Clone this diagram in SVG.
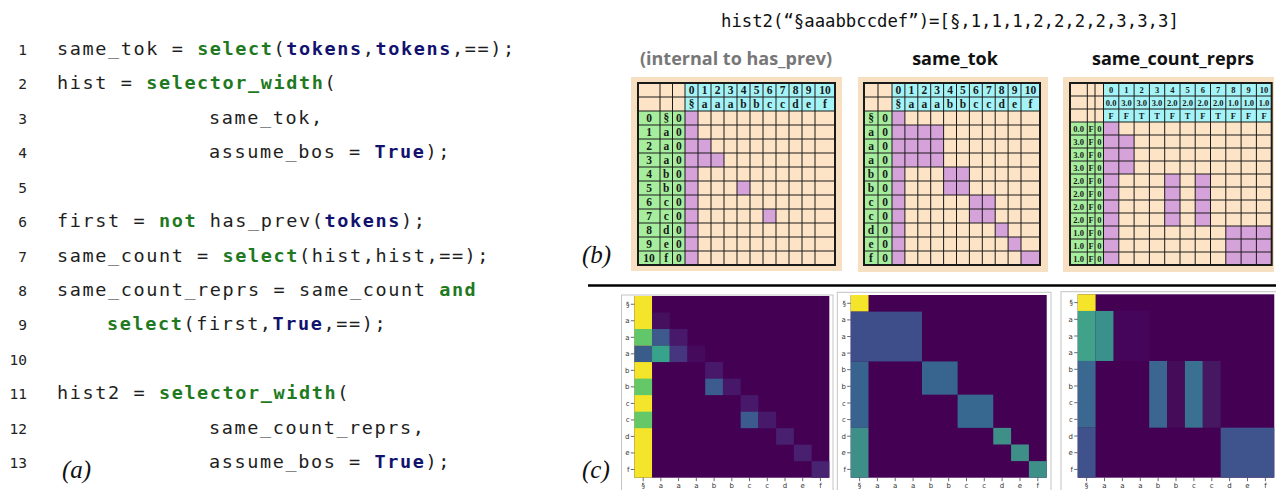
<svg xmlns="http://www.w3.org/2000/svg" width="1276" height="490" viewBox="0 0 1276 490">
<style>
.code{font-family:"DejaVu Sans Mono","Liberation Mono",monospace;font-size:18.5px;letter-spacing:1.6px;fill:#1e1e1e}
.ln{font-family:"DejaVu Sans Mono","Liberation Mono",monospace;font-size:14.5px;fill:#222;text-anchor:end}
.kg{fill:#1f7a1f;font-weight:bold}
.kn{fill:#12126e;font-weight:bold}
.lab{font-family:"Liberation Serif",serif;font-style:italic;font-size:25px;fill:#111}
.ttl{font-family:"Open Sans","Noto Sans",sans-serif;font-weight:bold;font-size:18px;text-anchor:middle}
.pan{fill:#f7dfc2}
.bg{fill:#fde4c6}
.cy{fill:#a4f3f6}
.gr{fill:#a6ee9e}
.pu{fill:#d5a2da}
.gl{stroke:#1a1a1a;stroke-width:1;fill:none}
.go{stroke:#1a1a1a;stroke-width:2;fill:none}
.g1{font-family:"Liberation Serif",serif;font-weight:bold;font-size:11.5px;fill:#1a1a1a;text-anchor:middle}
.g3{font-family:"Liberation Serif",serif;font-weight:bold;font-size:8.5px;fill:#1a1a1a;text-anchor:middle}
.box{fill:#fff;stroke:#c4c4c4;stroke-width:1}
.tk{stroke:#444;stroke-width:0.8;fill:none}
.tl{font-family:"DejaVu Sans",sans-serif;font-size:7px;fill:#333}
.tle{text-anchor:end}
.tlm{text-anchor:middle}
</style>

<g id="code">
<text class="ln" x="27" y="55">1</text>
<text class="ln" x="27" y="89.4">2</text>
<text class="ln" x="27" y="123.8">3</text>
<text class="ln" x="27" y="158.3">4</text>
<text class="ln" x="27" y="192.7">5</text>
<text class="ln" x="27" y="227.1">6</text>
<text class="ln" x="27" y="261.5">7</text>
<text class="ln" x="27" y="295.9">8</text>
<text class="ln" x="27" y="330.4">9</text>
<text class="ln" x="27" y="364.8">10</text>
<text class="ln" x="27" y="399.2">11</text>
<text class="ln" x="27" y="433.6">12</text>
<text class="ln" x="27" y="468">13</text>
<text class="code" x="57" y="55">same_tok = <tspan class="kg">select</tspan>(<tspan class="kn">tokens</tspan>,<tspan class="kn">tokens</tspan>,==);</text>
<text class="code" x="57" y="89.4">hist = <tspan class="kg">selector_width</tspan>(</text>
<text class="code" x="209" y="123.8">same_tok,</text>
<text class="code" x="209" y="158.3">assume_bos = <tspan class="kn">True</tspan>);</text>
<text class="code" x="57" y="227.1">first = <tspan class="kg">not</tspan> has_prev(<tspan class="kn">tokens</tspan>);</text>
<text class="code" x="57" y="261.5">same_count = <tspan class="kg">select</tspan>(hist,hist,==);</text>
<text class="code" x="57" y="295.9">same_count_reprs = same_count <tspan class="kg">and</tspan></text>
<text class="code" x="107" y="330.4"><tspan class="kg">select</tspan>(first,<tspan class="kn">True</tspan>,==);</text>
<text class="code" x="57" y="399.2">hist2 = <tspan class="kg">selector_width</tspan>(</text>
<text class="code" x="209" y="433.6">same_count_reprs,</text>
<text class="code" x="209" y="468">assume_bos = <tspan class="kn">True</tspan>);</text>
<text class="lab" x="62" y="478">(a)</text>
</g>

<g id="title">
<text x="721" y="27" font-family="DejaVu Sans Mono, monospace" font-size="17.3" fill="#111">hist2(“§aaabbccdef”)=[§,1,1,1,2,2,2,2,3,3,3]</text>
<text class="lab" x="582" y="263">(b)</text>
<text class="lab" x="582" y="478">(c)</text>
<line x1="588" y1="285.5" x2="1276" y2="285.5" stroke="#000" stroke-width="2.6"/>
</g>

<g id="grid-has-prev">
<text class="ttl" x="736" y="65" fill="#777">(internal to has_prev)</text>
<rect class="pan" x="631" y="77" width="211" height="194"/>
<rect class="bg" x="638" y="83" width="197" height="182"/>
<rect class="cy" x="685" y="83" width="150" height="28"/>
<rect class="gr" x="638" y="111" width="47" height="154"/>
<rect class="pu" x="685" y="111" width="13" height="154"/>
<rect class="pu" x="698" y="139" width="13" height="14"/>
<rect class="pu" x="698" y="153" width="26" height="14"/>
<rect class="pu" x="737" y="181" width="13" height="14"/>
<rect class="pu" x="763" y="209" width="13" height="14"/>
<path class="gl" d="M660 83V265M672.5 83V265M685 83V265M698 83V265M711 83V265M724 83V265M737 83V265M750 83V265M763 83V265M776 83V265M789 83V265M802 83V265M815 83V265M638 97H835M638 111H835M638 125H835M638 139H835M638 153H835M638 167H835M638 181H835M638 195H835M638 209H835M638 223H835M638 237H835M638 251H835"/>
<rect class="go" x="638" y="83" width="197" height="182"/>
<text class="g1" x="691.5 704.5 717.5 730.5 743.5 756.5 769.5 782.5 795.5 808.5" y="94">0123456789</text>
<text class="g1" x="825" y="94">10</text>
<text class="g1" x="691.5 704.5 717.5 730.5 743.5 756.5 769.5 782.5 795.5 808.5 825" y="108">§aaabbccdef</text>
<text class="g1" x="649 649 649 649 649 649 649 649 649 649" y="122 136 150 164 178 192 206 220 234 248">0123456789</text>
<text class="g1" x="649" y="262">10</text>
<text class="g1" x="666.25 666.25 666.25 666.25 666.25 666.25 666.25 666.25 666.25 666.25 666.25" y="122 136 150 164 178 192 206 220 234 248 262">§aaabbccdef</text>
<text class="g1" x="678.75 678.75 678.75 678.75 678.75 678.75 678.75 678.75 678.75 678.75 678.75" y="122 136 150 164 178 192 206 220 234 248 262">00000000000</text>
</g>

<g id="grid-same-tok">
<text class="ttl" x="955" y="65" fill="#111">same_tok</text>
<rect class="pan" x="858" y="77" width="190" height="195"/>
<rect class="bg" x="864" y="83" width="176" height="182"/>
<rect class="cy" x="892" y="83" width="148" height="28"/>
<rect class="gr" x="864" y="111" width="28" height="154"/>
<rect class="pu" x="892" y="111" width="12.9" height="154"/>
<rect class="pu" x="904.9" y="125" width="38.7" height="42"/>
<rect class="pu" x="943.6" y="167" width="25.8" height="28"/>
<rect class="pu" x="969.4" y="195" width="25.8" height="28"/>
<rect class="pu" x="995.2" y="223" width="12.9" height="14"/>
<rect class="pu" x="1008.1" y="237" width="12.9" height="14"/>
<rect class="pu" x="1021" y="251" width="19" height="14"/>
<path class="gl" d="M878 83V265M892 83V265M904.9 83V265M917.8 83V265M930.7 83V265M943.6 83V265M956.5 83V265M969.4 83V265M982.3 83V265M995.2 83V265M1008.1 83V265M1021 83V265M864 97H1040M864 111H1040M864 125H1040M864 139H1040M864 153H1040M864 167H1040M864 181H1040M864 195H1040M864 209H1040M864 223H1040M864 237H1040M864 251H1040"/>
<rect class="go" x="864" y="83" width="176" height="182"/>
<text class="g1" x="898.45 911.35 924.25 937.15 950.05 962.95 975.85 988.75 1001.65 1014.55" y="94">0123456789</text>
<text class="g1" x="1030.5" y="94">10</text>
<text class="g1" x="898.45 911.35 924.25 937.15 950.05 962.95 975.85 988.75 1001.65 1014.55 1030.5" y="108">§aaabbccdef</text>
<text class="g1" x="871 871 871 871 871 871 871 871 871 871 871" y="122 136 150 164 178 192 206 220 234 248 262">§aaabbccdef</text>
<text class="g1" x="885 885 885 885 885 885 885 885 885 885 885" y="122 136 150 164 178 192 206 220 234 248 262">00000000000</text>
</g>

<g id="grid-same-count-reprs">
<text class="ttl" x="1173" y="65" fill="#111">same_count_reprs</text>
<rect class="pan" x="1063" y="77" width="211" height="195"/>
<rect class="bg" x="1070" y="83" width="201.7" height="182"/>
<rect class="cy" x="1103.5" y="83" width="168.2" height="39"/>
<rect class="gr" x="1070" y="122" width="33.5" height="143"/>
<rect class="pu" x="1103.5" y="122" width="15.3" height="143"/>
<rect class="pu" x="1118.8" y="135" width="15.3" height="39"/>
<rect class="pu" x="1164.7" y="174" width="15.3" height="52"/>
<rect class="pu" x="1195.2" y="174" width="15.3" height="52"/>
<rect class="pu" x="1225.8" y="226" width="45.9" height="39"/>
<path class="gl" d="M1087.3 83V265M1095 83V265M1103.5 83V265M1118.8 83V265M1134.1 83V265M1149.4 83V265M1164.7 83V265M1180 83V265M1195.2 83V265M1210.5 83V265M1225.8 83V265M1241.1 83V265M1256.4 83V265M1070 96H1271.7M1070 109H1271.7M1070 122H1271.7M1070 135H1271.7M1070 148H1271.7M1070 161H1271.7M1070 174H1271.7M1070 187H1271.7M1070 200H1271.7M1070 213H1271.7M1070 226H1271.7M1070 239H1271.7M1070 252H1271.7"/>
<rect class="go" x="1070" y="83" width="201.7" height="182"/>
<text class="g3" x="1111.15 1126.45 1141.7 1157 1172.3 1187.6 1202.9 1218.2 1233.4 1248.7" y="92.5">0123456789</text>
<text class="g3" x="1264" y="92.5">10</text>
<text class="g3" y="105.5"><tspan x="1111.15">0.0</tspan><tspan x="1126.45">3.0</tspan><tspan x="1141.7">3.0</tspan><tspan x="1157">3.0</tspan><tspan x="1172.3">2.0</tspan><tspan x="1187.6">2.0</tspan><tspan x="1202.9">2.0</tspan><tspan x="1218.2">2.0</tspan><tspan x="1233.4">1.0</tspan><tspan x="1248.7">1.0</tspan><tspan x="1264">1.0</tspan></text>
<text class="g3" x="1111.15 1126.45 1141.7 1157 1172.3 1187.6 1202.9 1218.2 1233.4 1248.7 1264" y="118.5">FFTTFTFTFFF</text>
<text class="g3" x="1078.65"><tspan y="131.5">0.0</tspan><tspan x="1078.65" y="144.5">3.0</tspan><tspan x="1078.65" y="157.5">3.0</tspan><tspan x="1078.65" y="170.5">3.0</tspan><tspan x="1078.65" y="183.5">2.0</tspan><tspan x="1078.65" y="196.5">2.0</tspan><tspan x="1078.65" y="209.5">2.0</tspan><tspan x="1078.65" y="222.5">2.0</tspan><tspan x="1078.65" y="235.5">1.0</tspan><tspan x="1078.65" y="248.5">1.0</tspan><tspan x="1078.65" y="261.5">1.0</tspan></text>
<text class="g3" x="1091.15 1091.15 1091.15 1091.15 1091.15 1091.15 1091.15 1091.15 1091.15 1091.15 1091.15" y="131.5 144.5 157.5 170.5 183.5 196.5 209.5 222.5 235.5 248.5 261.5">FFFFFFFFFFF</text>
<text class="g3" x="1099.25 1099.25 1099.25 1099.25 1099.25 1099.25 1099.25 1099.25 1099.25 1099.25 1099.25" y="131.5 144.5 157.5 170.5 183.5 196.5 209.5 222.5 235.5 248.5 261.5">00000000000</text>
</g>

<g id="heatmap-has-prev">
<rect class="box" x="621.5" y="295" width="211.5" height="200"/>
<g transform="translate(634.3,296) scale(17.73,16.52)">
<rect width="11" height="11" fill="#440154"/>
<rect x="0" y="0" width="1" height="11" fill="#f4e52a"/>
<rect x="0" y="2" width="1" height="1" fill="#62c66a"/>
<rect x="0" y="3" width="1" height="1" fill="#3a5c8b"/>
<rect x="0" y="5" width="1" height="1" fill="#64c768"/>
<rect x="0" y="7" width="1" height="1" fill="#64c768"/>
<rect x="1" y="1" width="1" height="1" fill="#46105f"/>
<rect x="1" y="2" width="1" height="1" fill="#3e5a8d"/>
<rect x="2" y="2" width="1" height="1" fill="#48186a"/>
<rect x="1" y="3" width="1" height="1" fill="#37a38a"/>
<rect x="2" y="3" width="1" height="1" fill="#46367f"/>
<rect x="3" y="3" width="1" height="1" fill="#460a5c"/>
<rect x="4" y="4" width="1" height="1" fill="#48196b"/>
<rect x="4" y="5" width="1" height="1" fill="#3c5b8e"/>
<rect x="5" y="5" width="1" height="1" fill="#47186a"/>
<rect x="6" y="6" width="1" height="1" fill="#48196b"/>
<rect x="6" y="7" width="1" height="1" fill="#3c5a8e"/>
<rect x="7" y="7" width="1" height="1" fill="#47196a"/>
<rect x="8" y="8" width="1" height="1" fill="#48206f"/>
<rect x="9" y="9" width="1" height="1" fill="#48206f"/>
<rect x="10" y="10" width="1" height="1" fill="#482372"/>
</g>
<path class="tk" d="M630.8 304.26h3.5M630.8 320.78h3.5M630.8 337.3h3.5M630.8 353.82h3.5M630.8 370.34h3.5M630.8 386.86h3.5M630.8 403.38h3.5M630.8 419.9h3.5M630.8 436.42h3.5M630.8 452.94h3.5M630.8 469.46h3.5M643.2 477.7v3.5M660.9 477.7v3.5M678.6 477.7v3.5M696.3 477.7v3.5M714.1 477.7v3.5M731.8 477.7v3.5M749.5 477.7v3.5M767.3 477.7v3.5M785 477.7v3.5M802.7 477.7v3.5M820.4 477.7v3.5"/>
<text class="tl tle" x="629.5 629.5 629.5 629.5 629.5 629.5 629.5 629.5 629.5 629.5 629.5" y="306.8 323.3 339.8 356.3 372.8 389.4 405.9 422.4 438.9 455.4 472">§aaabbccdef</text>
<text class="tl tlm" x="643.2 660.9 678.6 696.3 714.1 731.8 749.5 767.3 785 802.7 820.4" y="488">§aaabbccdef</text>
</g>

<g id="heatmap-same-tok">
<rect class="box" x="837.3" y="292.3" width="213.7" height="205"/>
<g transform="translate(850.7,295) scale(17.82,16.61)">
<rect width="11" height="11" fill="#440154"/>
<rect x="0" y="0" width="1" height="1" fill="#f4e52a"/>
<rect x="0" y="1" width="4" height="3" fill="#3e4e8a"/>
<rect x="0" y="4" width="1" height="4" fill="#37638e"/>
<rect x="4" y="4" width="2" height="2" fill="#37658f"/>
<rect x="6" y="6" width="2" height="2" fill="#366890"/>
<rect x="0" y="8" width="1" height="3" fill="#3e8f88"/>
<rect x="8" y="8" width="1" height="1" fill="#3e8f88"/>
<rect x="9" y="9" width="1" height="1" fill="#3e8f88"/>
<rect x="10" y="10" width="1" height="1" fill="#3e8f88"/>
</g>
<path class="tk" d="M847.2 303.3h3.5M847.2 319.9h3.5M847.2 336.5h3.5M847.2 353.1h3.5M847.2 369.7h3.5M847.2 386.3h3.5M847.2 403h3.5M847.2 419.6h3.5M847.2 436.2h3.5M847.2 452.8h3.5M847.2 469.4h3.5M859.6 477.7v3.5M877.4 477.7v3.5M895.2 477.7v3.5M913.1 477.7v3.5M930.9 477.7v3.5M948.7 477.7v3.5M966.5 477.7v3.5M984.3 477.7v3.5M1002.1 477.7v3.5M1020 477.7v3.5M1037.8 477.7v3.5"/>
<text class="tl tle" x="845.9 845.9 845.9 845.9 845.9 845.9 845.9 845.9 845.9 845.9 845.9" y="305.8 322.4 339 355.6 372.2 388.8 405.5 422.1 438.7 455.3 471.9">§aaabbccdef</text>
<text class="tl tlm" x="859.6 877.4 895.2 913.1 930.9 948.7 966.5 984.3 1002.1 1020 1037.8" y="488">§aaabbccdef</text>
</g>

<g id="heatmap-same-count-reprs">
<rect class="box" x="1061" y="291.7" width="220" height="205"/>
<g transform="translate(1077.7,294.3) scale(17.87,16.67)">
<rect width="11" height="11" fill="#440154"/>
<rect x="2" y="1" width="2" height="3" fill="#45055a"/>
<rect x="0" y="0" width="1" height="1" fill="#f4e52a"/>
<rect x="0" y="1" width="1" height="3" fill="#40a389"/>
<rect x="1" y="1" width="1" height="3" fill="#3a918c"/>
<rect x="0" y="4" width="1" height="4" fill="#3a6890"/>
<rect x="4" y="4" width="1" height="4" fill="#3a6690"/>
<rect x="5" y="4" width="1" height="4" fill="#450c59"/>
<rect x="6" y="4" width="1" height="4" fill="#3a7090"/>
<rect x="7" y="4" width="1" height="4" fill="#471862"/>
<rect x="0" y="8" width="1" height="3" fill="#3f528b"/>
<rect x="8" y="8" width="3" height="3" fill="#3f538c"/>
</g>
<path class="tk" d="M1074.2 302.6h3.5M1074.2 319.3h3.5M1074.2 336h3.5M1074.2 352.7h3.5M1074.2 369.3h3.5M1074.2 386h3.5M1074.2 402.7h3.5M1074.2 419.3h3.5M1074.2 436h3.5M1074.2 452.7h3.5M1074.2 469.4h3.5M1086.6 477.7v3.5M1104.5 477.7v3.5M1122.4 477.7v3.5M1140.3 477.7v3.5M1158.1 477.7v3.5M1176 477.7v3.5M1193.9 477.7v3.5M1211.8 477.7v3.5M1229.6 477.7v3.5M1247.5 477.7v3.5M1265.4 477.7v3.5"/>
<text class="tl tle" x="1072.9 1072.9 1072.9 1072.9 1072.9 1072.9 1072.9 1072.9 1072.9 1072.9 1072.9" y="305.1 321.8 338.5 355.2 371.8 388.5 405.2 421.8 438.5 455.2 471.9">§aaabbccdef</text>
<text class="tl tlm" x="1086.6 1104.5 1122.4 1140.3 1158.1 1176 1193.9 1211.8 1229.6 1247.5 1265.4" y="488">§aaabbccdef</text>
</g>
</svg>
